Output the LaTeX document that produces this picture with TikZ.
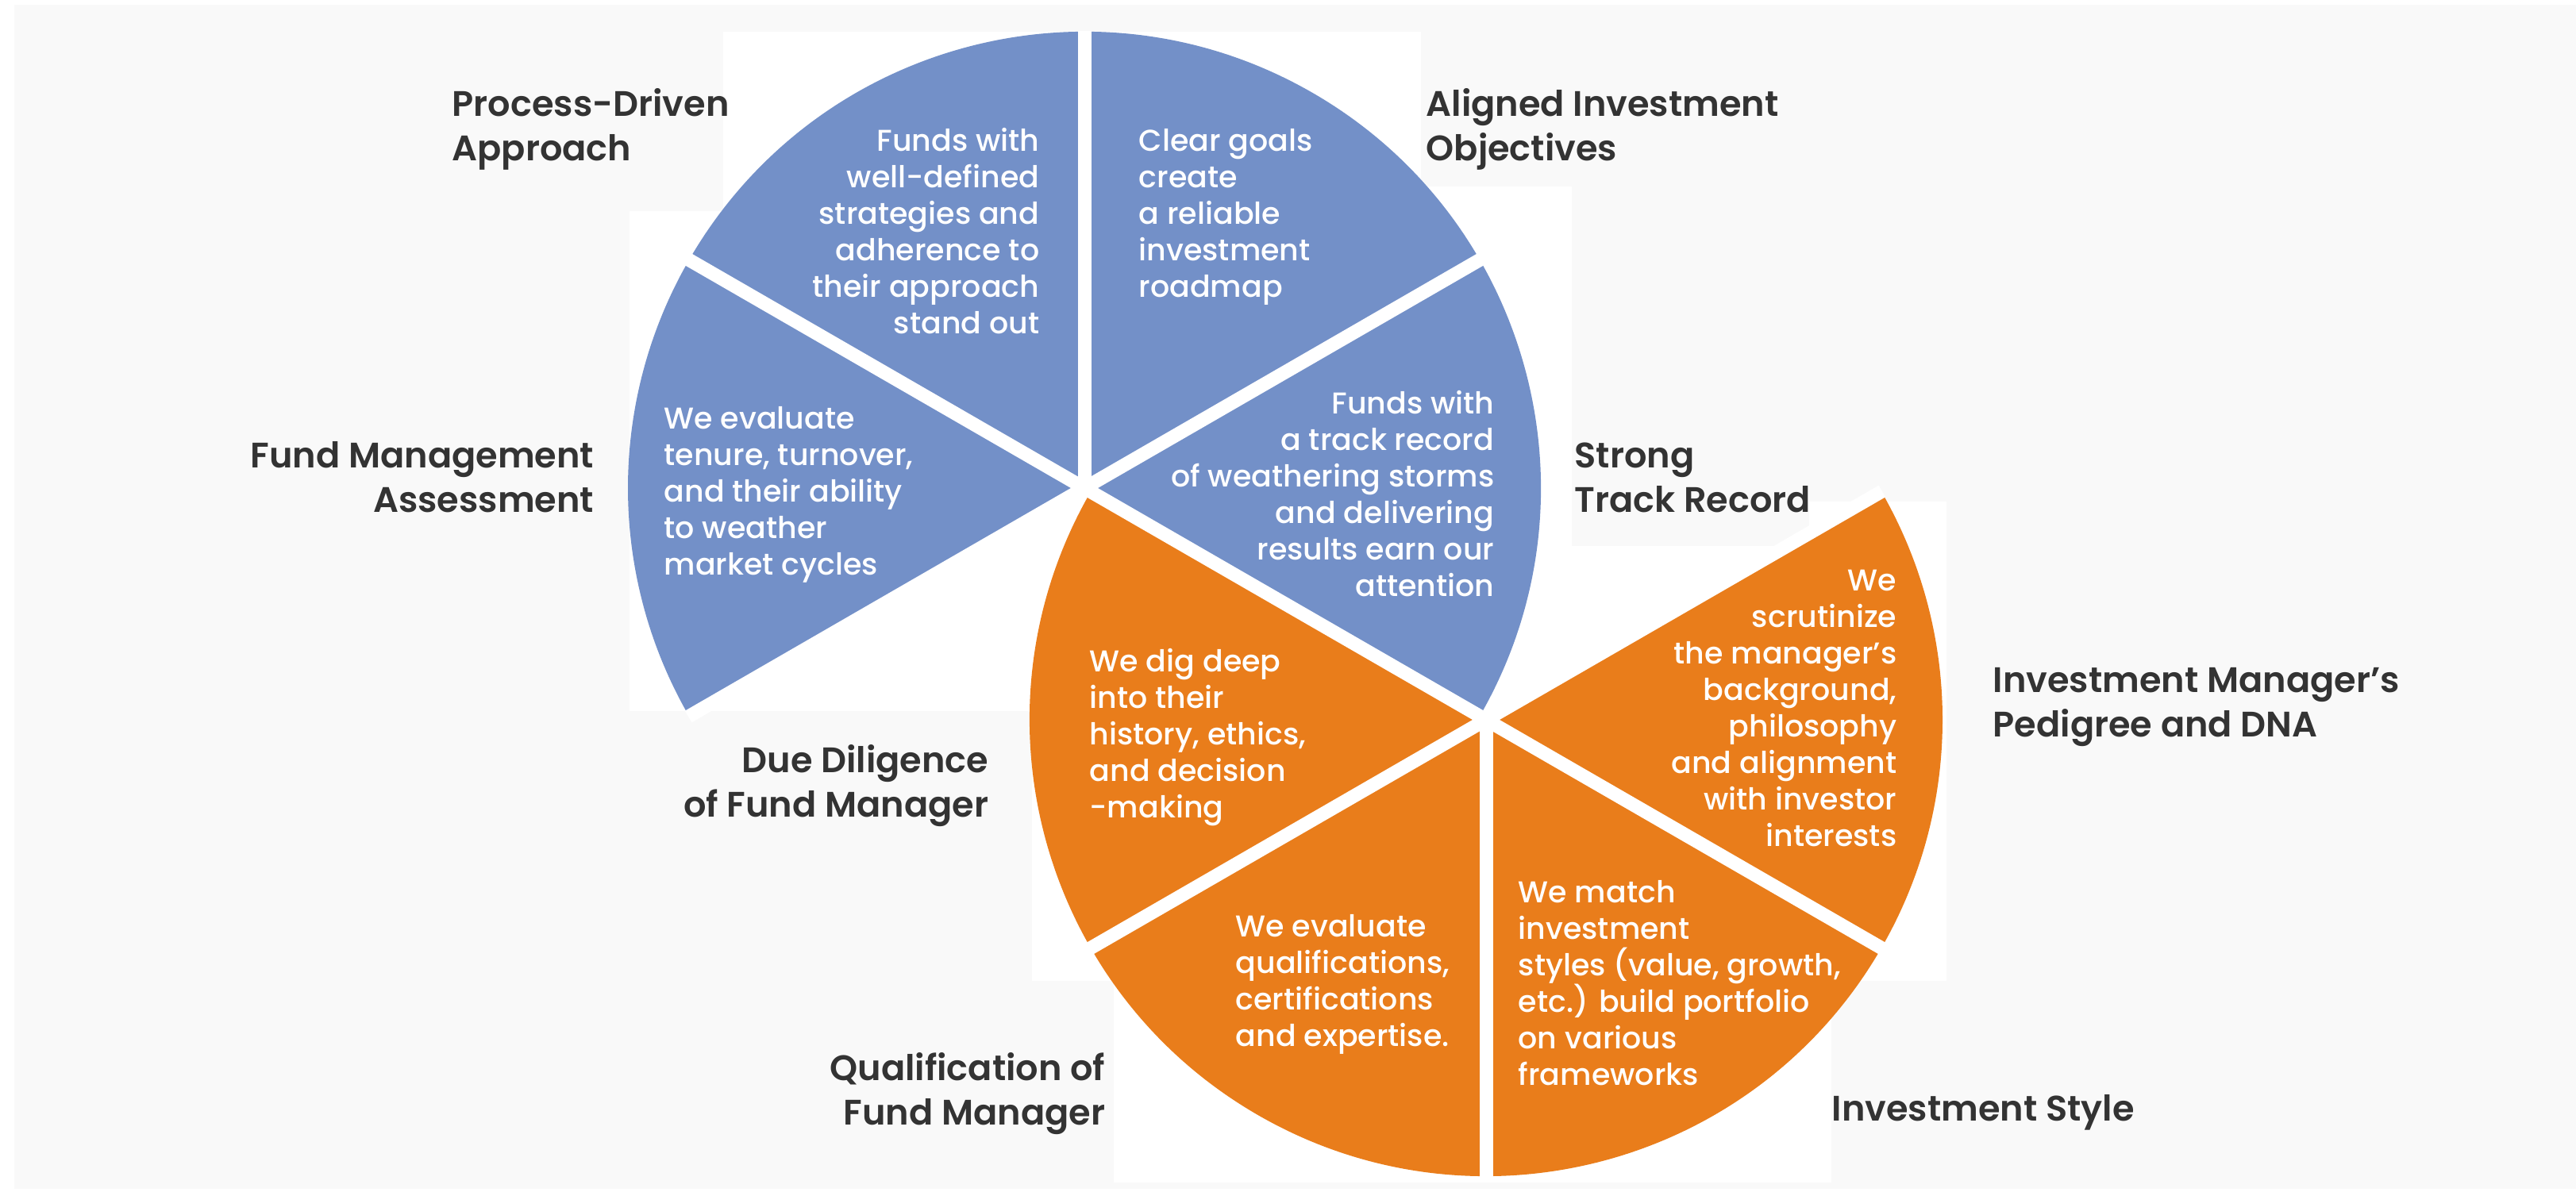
\documentclass[tikz,border=0pt]{standalone}
\usepackage{fontspec}
\setmainfont{Poppins}
\newfontfamily\labelfont{Poppins SemiBold}
\newfontfamily\wedgefont{Poppins Medium}
\usetikzlibrary{positioning}
\definecolor{pieblue}{HTML}{7390C8}
\definecolor{pieorange}{HTML}{E97D1B}
\definecolor{labelgray}{HTML}{333333}
\definecolor{backgray}{HTML}{F9F9F9}
\tikzset{
	outlabel/.style={text=labelgray, font=\labelfont\fontsize{12.7}{16.2}\selectfont, inner sep=0pt},
	wedgetext/.style={text=white, font=\wedgefont\fontsize{10.8}{13.1}\selectfont, inner sep=0pt},
	gapline/.style={draw=white, line width=1.7mm}
}

\begin{document}
\begin{tikzpicture}
	\useasboundingbox (0,0) rectangle (32.45,15.02);
	\fill[white] (0,0) rectangle (32.45,15.02);
	\fill[backgray] (0.18,0.04) rectangle (32.45,14.96);
	\fill[white] (9.11,8.87) rectangle (17.90,14.62);
	\fill[white] (7.93,6.06) rectangle (13.66,12.36);
	\fill[white] (13.66,8.14) rectangle (19.80,12.67);
	\fill[white] (13.00,2.66) rectangle (19.80,8.87);
	\fill[white] (19.80,2.66) rectangle (22.79,8.14);
	\fill[white] (22.79,2.66) rectangle (24.52,8.70);
	\fill[white] (14.03,0.12) rectangle (23.07,2.66);
	
	\coordinate (bc) at (13.66,8.87);
	\coordinate (oc) at (18.72,5.95);
	\fill[pieblue] (bc) -- ++(-30:5.75) arc[start angle=-30, end angle=210, radius=5.75] -- cycle;
	\fill[pieorange] (oc) -- ++(150:5.75) arc[start angle=150, end angle=390, radius=5.75] -- cycle;
	
	\draw[gapline] (bc) -- ++(30:5.76);
	\draw[gapline] (bc) -- ++(90:5.76);
	\draw[gapline] (bc) -- ++(150:5.76);
	\draw[gapline] (bc) -- ++(210:5.76);
	\draw[gapline] (bc) -- (oc);
	\draw[gapline] (oc) -- ++(210:5.76);
	\draw[gapline] (oc) -- ++(270:5.76);
	\draw[gapline] (oc) -- ++(330:5.76);
	\draw[gapline] (oc) -- ++(30:5.76);
	
	% base anchor sits on the last line
	\node[wedgetext, align=right, anchor=base east] (txtprocess) at (13.10,10.815) {Funds with\\well-defined\\strategies and\\adherence to\\their approach\\stand out};
	\node[wedgetext, align=left, anchor=base west] (txtaligned) at (14.34,11.276) {Clear goals\\create\\a reliable\\investment\\roadmap};
	\node[wedgetext, align=right, anchor=base east] (txtstrong) at (18.83,7.505) {Funds with\\a track record\\of weathering storms\\and delivering\\results earn our\\attention};
	\node[wedgetext, align=left, anchor=base west] (txtfundmgmt) at (8.36,7.776) {We evaluate\\tenure, turnover,\\and their ability\\to weather\\market cycles};
	\node[wedgetext, align=left, anchor=base west] (txtduedil) at (13.72,4.716) {We dig deep\\into their\\history, ethics,\\and decision\\-making};
	\node[wedgetext, align=right, anchor=base east] (txtpedigree) at (23.90,4.353) {We\\scrutinize\\the manager’s\\background,\\philosophy\\and alignment\\with investor\\interests};
	\node[wedgetext, align=left, anchor=base west] (txtqualif) at (15.56,1.837) {We evaluate\\qualifications,\\certifications\\and expertise.};
	\node[wedgetext, align=left, anchor=base west] (txtstyle) at (19.12,1.345) {We match\\investment\\styles (value, growth,\\etc.) build portfolio\\on various\\frameworks};
	
	\node[outlabel, align=left, anchor=base west] (lblprocess) at (5.69,12.99) {Process-Driven\\Approach};
	\node[outlabel, align=left, anchor=base west] (lblaligned) at (17.96,12.99) {Aligned Investment\\Objectives};
	\node[outlabel, align=right, anchor=base east] (lblfundmgmt) at (7.49,8.56) {Fund Management\\Assessment};
	\node[outlabel, align=left, anchor=base west] (lblstrong) at (19.83,8.56) {Strong\\Track Record};
	\node[outlabel, align=left, anchor=base west] (lblpedigree) at (25.10,5.73) {Investment Manager’s\\Pedigree and DNA};
	\node[outlabel, align=right, anchor=base east] (lblduedil) at (12.46,4.72) {Due Diligence\\of Fund Manager};
	\node[outlabel, align=right, anchor=base east] (lblqualif) at (13.93,0.84) {Qualification of\\Fund Manager};
	\node[outlabel, anchor=base west] (lblstyle) at (23.07,0.89) {Investment Style};
\end{tikzpicture}
\end{document}
